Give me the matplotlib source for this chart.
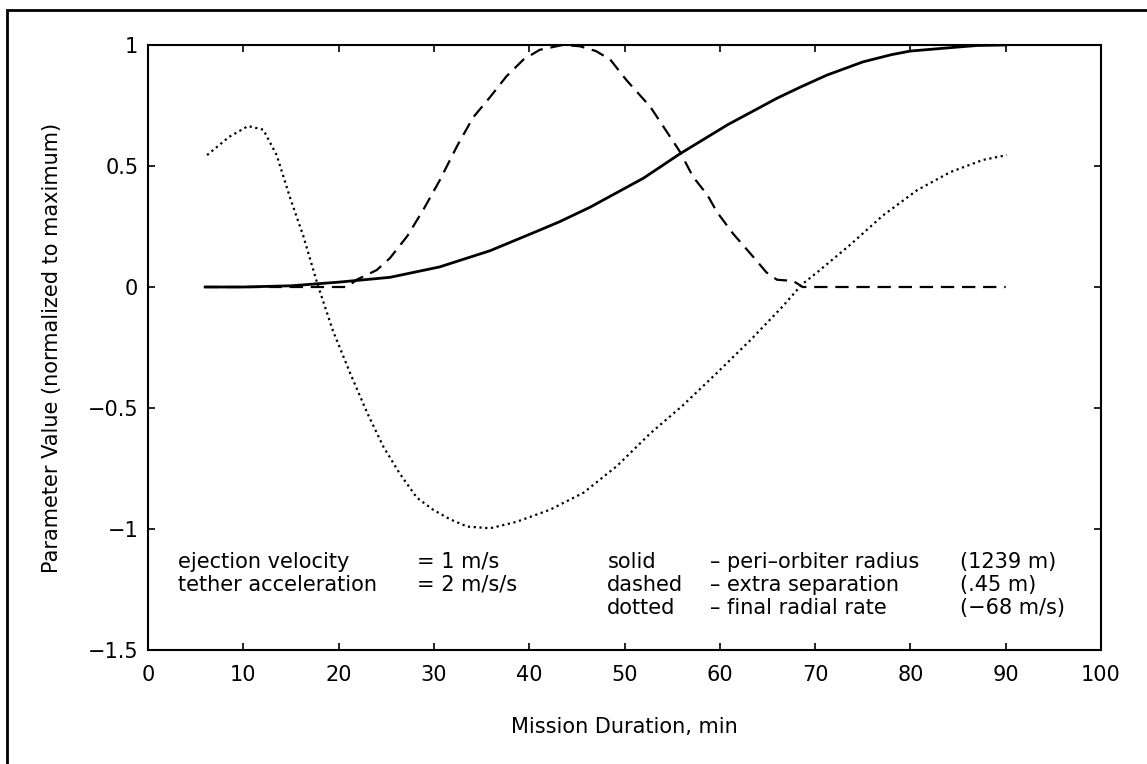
import matplotlib
matplotlib.use("Agg")
import matplotlib.pyplot as plt
from matplotlib.patches import Rectangle

# ---- data ----
solid_x = [6, 10, 15, 20, 25.4, 30.6, 35.9, 41.1, 43.2, 46.4, 48.5, 52, 55.8, 60.8, 66, 68.4, 71.2, 75, 78, 80, 84.5, 87, 90]
solid_y = [0.0, 0.0, 0.005, 0.02, 0.04, 0.083, 0.15, 0.235, 0.27, 0.33, 0.375, 0.45, 0.55, 0.67, 0.78, 0.825, 0.875, 0.93, 0.96, 0.975, 0.99, 0.998, 1.0]

dashed_x = [6, 20.9, 21.9, 24, 25.4, 27.2, 28.9, 30.6, 32.4, 34.1, 35.9, 37.6, 39.4, 41.1, 43.5, 45.3, 47, 48.5, 50.2, 52.7, 54.8, 55.8, 57.2, 58.7, 59.7, 61.4, 63.5, 64.9, 66, 67.7, 68.7, 90]
dashed_y = [0.0, 0.0, 0.03, 0.07, 0.12, 0.21, 0.32, 0.44, 0.58, 0.70, 0.785, 0.87, 0.94, 0.98, 1.0, 0.995, 0.975, 0.94, 0.855, 0.745, 0.62, 0.56, 0.455, 0.38, 0.31, 0.22, 0.125, 0.06, 0.03, 0.025, 0.0, 0.0]

dotted_x = [6.2, 8.5, 10.5, 12.1, 13.5, 14.9, 16.3, 17.8, 19.4, 21.2, 23, 24.7, 26.4, 28.2, 29.9, 31.7, 33.5, 35.9, 38.7, 42.2, 45.7, 49.2, 52.7, 56.1, 59.7, 63.2, 66.6, 68.6, 70.2, 73.7, 77.1, 80.7, 84.2, 87.6, 90.1]
dotted_y = [0.545, 0.62, 0.665, 0.65, 0.545, 0.37, 0.21, 0.01, -0.18, -0.355, -0.52, -0.66, -0.77, -0.87, -0.92, -0.96, -0.99, -0.997, -0.97, -0.92, -0.85, -0.74, -0.605, -0.49, -0.355, -0.22, -0.08, 0.01, 0.06, 0.175, 0.295, 0.40, 0.475, 0.525, 0.545]

x_ticks = [0, 10, 20, 30, 40, 50, 60, 70, 80, 90, 100]
y_ticks = [-1.5, -1, -0.5, 0, 0.5, 1]
y_tick_labels = ["\u22121.5", "\u22121", "\u22120.5", "0", "0.5", "1"]

left_notes = ["ejection velocity", "tether acceleration"]
left_values = ["= 1 m/s", "= 2 m/s/s"]
style_names = ["solid", "dashed", "dotted"]
style_desc = ["\u2013 peri\u2013orbiter radius", "\u2013 extra separation", "\u2013 final radial rate"]
style_vals = ["(1239 m)", "(.45 m)", "(\u221268 m/s)"]

plt.rcParams['font.family'] = ['DejaVu Sans']
FS = 15

fig = plt.figure(figsize=(11.47, 7.64), dpi=100)
W, H = 1147, 764
AX_L, AX_R, AX_T, AX_B = 148, 1101, 45, 650
ax = fig.add_axes([AX_L / W, 1 - AX_B / H, (AX_R - AX_L) / W, (AX_B - AX_T) / H])

# outer frame (left and top edges visible)
fig.patches.append(Rectangle((7 / W, -0.5), 2.0, 1.5 - 10 / H, transform=fig.transFigure,
                             fill=False, edgecolor='black', linewidth=2.0))

ax.plot(solid_x, solid_y, color='black', lw=2.0, ls='-')
ax.plot(dashed_x, dashed_y, color='black', lw=1.6, ls=(0, (6, 3.5)))
ax.plot(dotted_x, dotted_y, color='black', lw=1.6, ls=(0, (1, 1.6)))

ax.set_xlim(0, 100)
ax.set_ylim(-1.5, 1)
ax.set_xticks(x_ticks)
ax.set_xticklabels([str(v) for v in x_ticks], fontsize=FS)
ax.set_yticks(y_ticks)
ax.set_yticklabels(y_tick_labels, fontsize=FS)
ax.tick_params(direction='in', length=5, width=1.2, top=True, right=True)
ax.tick_params(axis='x', pad=11)
ax.tick_params(axis='y', pad=7)
for s in ax.spines.values():
    s.set_linewidth(1.5)

ax.set_xlabel("Mission Duration, min", fontsize=FS)
ax.set_ylabel("Parameter Value (normalized to maximum)", fontsize=FS)
ax.xaxis.label.set_va('center')
ax.yaxis.label.set_va('center')
ax.xaxis.set_label_coords(0.5, -(727 - AX_B) / (AX_B - AX_T))
ax.yaxis.set_label_coords(-(AX_L - 52) / (AX_R - AX_L), 0.5)

rows = [-1.136, -1.231, -1.326]
for i, t in enumerate(left_notes):
    ax.text(3.15, rows[i], t, fontsize=FS, va='center', ha='left')
    ax.text(28.2, rows[i], left_values[i], fontsize=FS, va='center', ha='left')
for i in range(3):
    ax.text(48.2, rows[i], style_names[i], fontsize=FS, va='center', ha='left')
    ax.text(59.0, rows[i], style_desc[i], fontsize=FS, va='center', ha='left')
    ax.text(85.2, rows[i], style_vals[i], fontsize=FS, va='center', ha='left')

fig.savefig("out.png", dpi=100)
